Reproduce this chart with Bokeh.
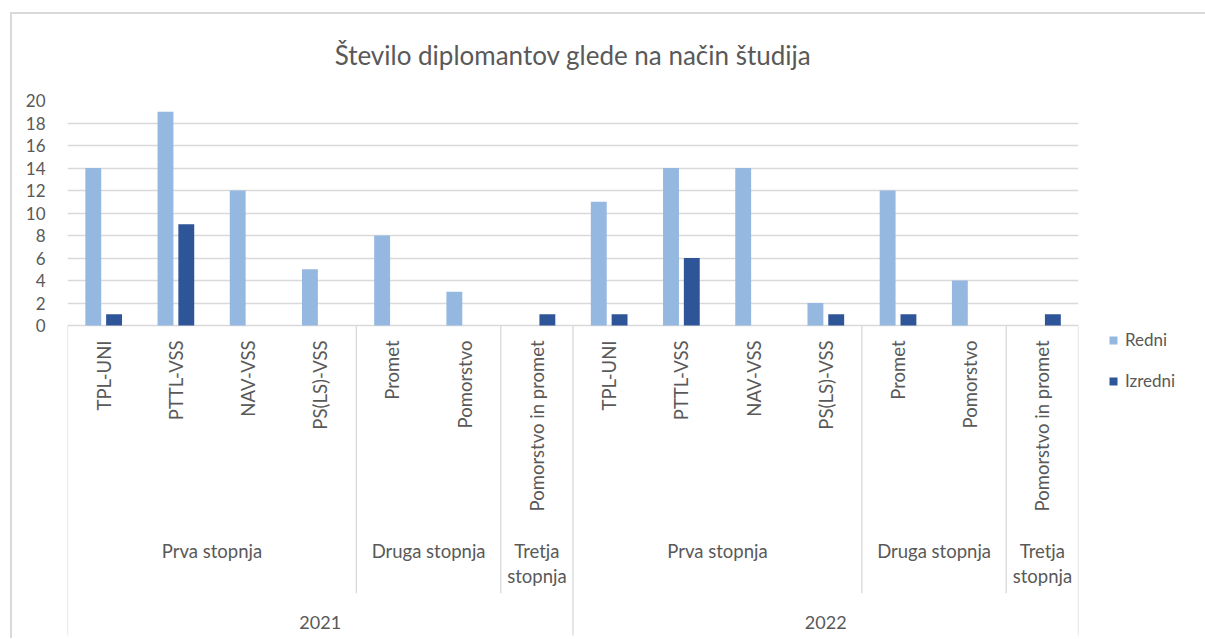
from math import pi
from bokeh.plotting import figure
from bokeh.models import (FactorRange, Range1d, FixedTicker, Legend, LegendItem,
                          ColumnDataSource)
from bokeh.core.properties import value
from bokeh.transform import dodge
from bokeh.embed import file_html
from bokeh.resources import INLINE

# ---------------- data ----------------
years = ["2021", "2022"]
levels = ["Prva stopnja", "Druga stopnja", "Tretja stopnja"]
programs = {
    "Prva stopnja": ["TPL-UNI", "PTTL-VSS", "NAV-VSS", "PS(LS)-VSS"],
    "Druga stopnja": ["Promet", "Pomorstvo"],
    "Tretja stopnja": ["Pomorstvo in promet"],
}
redni = [14, 19, 12, 5, 8, 3, 0, 11, 14, 14, 2, 12, 4, 0]
izredni = [1, 9, 0, 0, 0, 0, 1, 1, 6, 0, 1, 1, 0, 1]
series = ["Redni", "Izredni"]
title = "Število diplomantov glede na način študija"
y_ticks = [0, 2, 4, 6, 8, 10, 12, 14, 16, 18, 20]

# ---------------- styling ----------------
FONT = "Lato"
TXT = "#595959"
GRID = "#d9d9d9"
C_REDNI = "#95b8e0"
C_IZREDNI = "#2e5597"

factors = [(y, g, pr) for y in years for g in levels for pr in programs[g]]

Y_BOTTOM = -27.82
p = figure(
    x_range=FactorRange(*factors, factor_padding=0, subgroup_padding=0,
                        group_padding=0, range_padding=0),
    y_range=Range1d(Y_BOTTOM, 20),
    frame_width=1011, frame_height=538,
    min_border_left=67, min_border_right=126, min_border_top=100, min_border_bottom=0,
    output_backend="svg", toolbar_location=None,
    styles={"box-shadow": "inset 10px 12px 0 0 #ffffff, inset 12px 14px 0 0 #d9d9d9"},
)
p.border_fill_color = None
p.background_fill_color = None
p.outline_line_color = None
p.xgrid.grid_line_color = None
p.ygrid.grid_line_color = GRID
p.ygrid.grid_line_width = 1.3
p.xaxis.visible = False

p.yaxis.ticker = FixedTicker(ticks=y_ticks)
p.yaxis.axis_line_color = None
p.yaxis.major_tick_line_color = None
p.yaxis.minor_tick_line_color = None
p.yaxis.major_label_standoff = 16
p.yaxis.major_label_text_font = FONT
p.yaxis.major_label_text_font_size = "17px"
p.yaxis.major_label_text_color = TXT

p.title.text = title
p.title.align = "center"
p.title.text_font = FONT
p.title.text_font_size = "26px"
p.title.text_font_style = "normal"
p.title.text_color = TXT
p.title.standoff = 59

src = ColumnDataSource(dict(x=factors, redni=redni, izredni=izredni))
r1 = p.vbar(x=dodge("x", -0.143, range=p.x_range), top="redni", width=0.22,
            source=src, color=C_REDNI, line_color=None)
r2 = p.vbar(x=dodge("x", 0.145, range=p.x_range), top="izredni", width=0.22,
            source=src, color=C_IZREDNI, line_color=None)

# ---------------- category axis (multi-level) ----------------
inner_x = []
outer_x = []
for y in years:
    outer_x.append((y, levels[0], programs[levels[0]][0], -0.5))
    for g in levels[1:]:
        inner_x.append((y, g, programs[g][0], -0.5))
outer_x.append((years[-1], levels[-1], programs[levels[-1]][-1], 0.5))

Y_INNER_END = -23.8
Y_OUTER_END = -27.56
p.segment(x0=inner_x, x1=inner_x, y0=[0] * len(inner_x), y1=[Y_INNER_END] * len(inner_x),
          line_color=GRID, line_width=1.3)
p.segment(x0=outer_x, x1=outer_x, y0=[0] * len(outer_x), y1=[Y_OUTER_END] * len(outer_x),
          line_color=GRID, line_width=1.3)

F = value(FONT)
# program labels (rotated)
p.text(x=factors, y=[-1.33] * len(factors), text=[f[2] for f in factors],
       angle=pi / 2, text_align="right", text_baseline="middle",
       text_font=F, text_font_size="18.5px", text_color=TXT)

# level labels
lvl_x = [(y, g) for y in years for g in levels]
lvl_txt = [g if g != "Tretja stopnja" else "Tretja\nstopnja" for y in years for g in levels]
p.text(x=lvl_x, y=[-19.1] * len(lvl_x), text=lvl_txt, text_align="center",
       text_baseline="top", text_font=F, text_font_size="18.5px", text_color=TXT,
       text_line_height=1.1)

# year labels
p.text(x=years, y=[-26.4] * len(years), text=years, text_align="center",
       text_baseline="middle", text_font=F, text_font_size="18px", text_color=TXT)

legend = Legend(items=[LegendItem(label=series[0], renderers=[r1]),
                       LegendItem(label=series[1], renderers=[r2])],
                location="center_left", orientation="vertical", padding=0, margin=30,
                spacing=20, glyph_width=10, glyph_height=10, label_height=20,
                label_standoff=7, border_line_color=None, background_fill_alpha=0,
                label_text_font=FONT, label_text_font_size="17px", label_text_color=TXT,
                title=" ", title_location="below", title_standoff=2,
                title_text_font_size="14px")
p.add_layout(legend, "right")

open("out.html", "w").write(file_html(p, INLINE))
